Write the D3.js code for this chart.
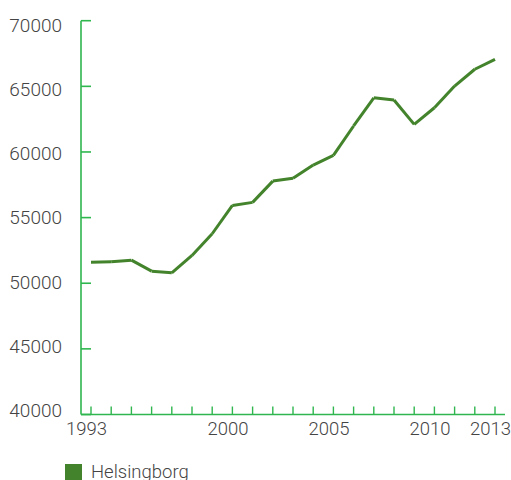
<!DOCTYPE html>
<html>
<head>
<meta charset="utf-8">
<script src="https://cdn.jsdelivr.net/npm/d3@7"></script>
<style>
  body { margin: 0; background: #fff; }
  svg text { font-family: Roboto, "Noto Sans", sans-serif; font-weight: 300; fill: #444; }
</style>
</head>
<body>
<svg id="chart" width="511" height="480"></svg>
<script>

// data
var years = d3.range(1993, 2014),
    population = [51600, 51630, 51760, 50920, 50790, 52120, 53770, 55930, 56160, 57780,
                  57990, 59000, 59740, 61980, 64130, 63960, 62100, 63370, 65020, 66300, 67060],
    yTicks = [40000, 45000, 50000, 55000, 60000, 65000, 70000],
    xLabels = [1993, 2000, 2005, 2010, 2013],
    seriesName = "Helsingborg";

var lineColor = "#43832b",
    axisColor = "#2fb64f",
    plot = {left: 81, right: 505, top: 20.7, bottom: 414.5};

var svg = d3.select("#chart");

// set the ranges
var x = d3.scaleLinear().domain([1993, 2013]).range([plot.left + 10, plot.right - 10]);
var y = d3.scaleLinear().domain([40000, 70000]).range([plot.bottom, plot.top]);
// labels sit a little closer together than the ticks
var yLabel = d3.scaleLinear().domain([40000, 70000]).range([410, 25.3]);

// y axis: line + inward ticks
var yAxis = svg.append("g").attr("class", "y axis");
yAxis.append("line")
    .attr("x1", plot.left).attr("x2", plot.left)
    .attr("y1", y(70000)).attr("y2", y(40000))
    .attr("stroke", axisColor).attr("stroke-width", 1.6);
yAxis.selectAll(".tick").data(yTicks).enter().append("line")
    .attr("x1", plot.left).attr("x2", plot.left + 10)
    .attr("y1", function (d) { return y(d); })
    .attr("y2", function (d) { return y(d); })
    .attr("stroke", axisColor).attr("stroke-width", 1.6);
yAxis.selectAll("text").data(yTicks).enter().append("text")
    .attr("x", 62)
    .attr("y", function (d) { return yLabel(d); })
    .attr("dy", "0.36em")
    .style("text-anchor", "end")
    .style("font-size", "19px")
    .text(function (d) { return d; });

// x axis: line + upward ticks
var xAxis = svg.append("g").attr("class", "x axis");
xAxis.append("line")
    .attr("x1", plot.left).attr("x2", plot.right)
    .attr("y1", plot.bottom).attr("y2", plot.bottom)
    .attr("stroke", axisColor).attr("stroke-width", 1.6);
xAxis.selectAll(".tick").data(years).enter().append("line")
    .attr("x1", function (d) { return x(d); })
    .attr("x2", function (d) { return x(d); })
    .attr("y1", plot.bottom).attr("y2", plot.bottom - 8)
    .attr("stroke", axisColor).attr("stroke-width", 1.4);
xAxis.selectAll("text").data(xLabels).enter().append("text")
    .attr("x", function (d) { return x(d) - 4.5; })
    .attr("y", plot.bottom + 20.5)
    .style("text-anchor", "middle")
    .style("font-size", "18.5px")
    .text(function (d) { return d; });

// the line, one segment per year so the joins show small gaps
var pts = years.map(function (d, i) { return [x(d), y(population[i])]; });
var segs = d3.pairs(pts);
svg.append("g").selectAll("line").data(segs).enter().append("line")
    .attr("x1", function (d) { return d[0][0]; })
    .attr("y1", function (d) { return d[0][1]; })
    .attr("x2", function (d) { return d[1][0]; })
    .attr("y2", function (d) { return d[1][1]; })
    .attr("stroke", lineColor)
    .attr("stroke-width", 3)
    .attr("stroke-linecap", "butt");

// legend
var legend = svg.append("g").attr("transform", "translate(65,464)");
legend.append("rect")
    .attr("width", 17).attr("height", 17)
    .attr("fill", lineColor);
legend.append("text")
    .attr("x", 26).attr("y", 14)
    .style("font-size", "18.5px")
    .text(seriesName);

</script>
</body>
</html>
